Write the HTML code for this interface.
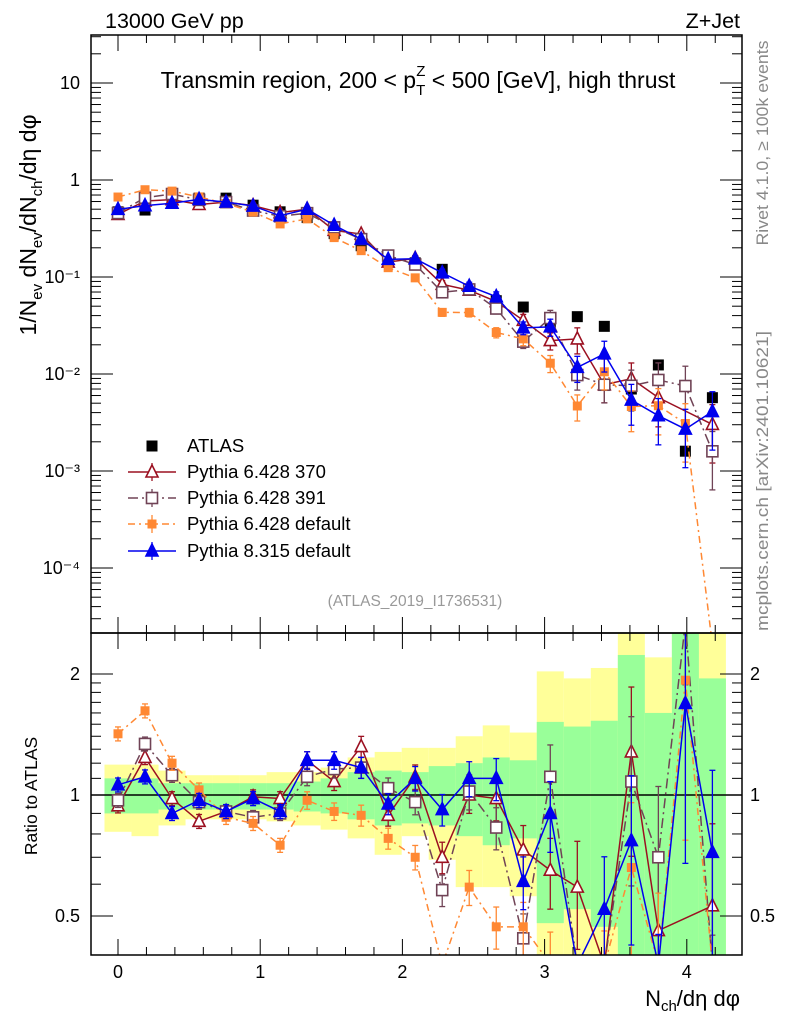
<!DOCTYPE html>
<html><head><meta charset="utf-8"><style>
html,body{margin:0;padding:0;background:#fff;overflow:hidden;width:786px;height:1024px}
svg{display:block;overflow:hidden;font-family:"Liberation Sans",sans-serif}
</style></head><body>
<svg id="c" width="786" height="1024" viewBox="0 0 786 1024" xmlns="http://www.w3.org/2000/svg">
<defs>
<clipPath id="clipMain"><rect x="91" y="35" width="651" height="598"/></clipPath>
<clipPath id="clipRatio"><rect x="91" y="633" width="651" height="322"/></clipPath>
</defs>
<g id="bands" clip-path="url(#clipRatio)"></g>
<g id="axes"></g>
<g id="mainMarks" clip-path="url(#clipMain)"></g>
<g id="ratioMarks" clip-path="url(#clipRatio)"></g>
<rect x="91" y="35" width="651" height="598" fill="none" stroke="#000" stroke-width="1.5"/>
<rect x="91" y="633" width="651" height="322" fill="none" stroke="#000" stroke-width="1.5"/>
<text x="105" y="28" font-size="21.5">13000 GeV pp</text>
<text x="740" y="28" font-size="21.5" text-anchor="end">Z+Jet</text>
<text x="418" y="88" font-size="23" text-anchor="middle">Transmin region, 200 &lt; p<tspan font-size="15" dy="7">T</tspan><tspan font-size="15" dx="-9" dy="-19">Z</tspan><tspan dy="12"> &lt; 500 [GeV], high thrust</tspan></text>
<text transform="translate(36,225) rotate(-90)" font-size="23" text-anchor="middle">1/N<tspan font-size="15" dy="6">ev</tspan><tspan dy="-6"> dN</tspan><tspan font-size="15" dy="6">ev</tspan><tspan dy="-6">/dN</tspan><tspan font-size="15" dy="6">ch</tspan><tspan dy="-6">/dη dφ</tspan></text>
<text transform="translate(37,796) rotate(-90)" font-size="17.5" text-anchor="middle">Ratio to ATLAS</text>
<text x="740" y="1006" font-size="22" text-anchor="end">N<tspan font-size="15" dy="5">ch</tspan><tspan dy="-5">/dη dφ</tspan></text>
<text transform="translate(768,143) rotate(-90)" font-size="16.5" fill="#888" text-anchor="middle" textLength="205" lengthAdjust="spacingAndGlyphs">Rivet 4.1.0, ≥ 100k events</text>
<text transform="translate(768,481) rotate(-90)" font-size="16.5" fill="#888" text-anchor="middle" textLength="300" lengthAdjust="spacingAndGlyphs">mcplots.cern.ch [arXiv:2401.10621]</text>
<text x="415" y="606" font-size="15.5" fill="#999" text-anchor="middle">(ATLAS_2019_I1736531)</text>
<g id="legend"></g>
</svg>
<script>
// ---- data ----
const xCenters = [0,0.19,0.38,0.57,0.76,0.95,1.14,1.33,1.52,1.71,1.9,2.09,2.28,2.47,2.66,2.85,3.04,3.23,3.42,3.61,3.8,3.99,4.18];
const atlasValues = [0.47,0.49,0.64,0.65,0.65,0.55,0.47,0.41,0.28,0.21,0.16,0.14,0.12,0.073,0.057,0.049,0.034,0.039,0.031,0.0070,0.0124,0.0016,0.0057];
const ratioP6_370 = [0.94,1.24,0.98,0.86,0.91,0.99,0.98,1.22,1.08,1.32,0.89,1.11,0.70,1.00,0.98,0.73,0.65,0.59,0.25,1.28,0.46,null,0.53];
const ratioP6_391 = [0.97,1.34,1.12,0.96,0.91,0.88,0.90,1.11,1.16,1.17,1.04,0.96,0.58,1.02,0.83,0.44,1.11,0.25,0.25,1.08,0.70,4.7,0.28];
const ratioP6_def = [1.42,1.62,1.20,1.03,0.88,0.85,0.75,0.97,0.91,0.89,0.78,0.70,0.36,0.59,0.47,0.47,0.38,0.12,0.34,0.66,0.38,1.93,0.001];
const ratioP8_def = [1.06,1.11,0.90,0.97,0.91,0.98,0.91,1.22,1.22,1.17,0.95,1.10,0.92,1.10,1.10,0.61,0.90,0.3,0.52,0.77,0.3,1.69,0.72];
const relErr = [0.04,0.04,0.04,0.04,0.04,0.04,0.04,0.05,0.05,0.06,0.06,0.07,0.09,0.10,0.12,0.15,0.2,0.3,0.35,0.45,0.5,0.6,0.6];
const greenUp = [1.10,1.10,1.07,1.07,1.07,1.07,1.07,1.08,1.10,1.14,1.15,1.14,1.18,1.20,1.24,1.22,1.52,1.48,1.53,2.23,1.60,3.0,1.95];
const greenLo = [0.90,0.90,0.92,0.92,0.92,0.92,0.92,0.91,0.90,0.87,0.84,0.85,0.84,0.79,0.75,0.78,0.48,0.52,0.47,0.3,0.3,0.3,0.3];
const yellowUp = [1.19,1.19,1.15,1.12,1.12,1.12,1.14,1.14,1.17,1.24,1.28,1.31,1.31,1.40,1.49,1.43,2.03,1.95,2.07,3.0,2.2,3.0,3.0];
const yellowLo = [0.81,0.79,0.84,0.87,0.87,0.87,0.86,0.84,0.82,0.78,0.71,0.79,0.69,0.59,0.59,0.56,0.3,0.3,0.3,0.3,0.3,0.3,0.3];
const mainYTicks = [10,1,0.1,0.01,0.001,0.0001];
const mainYLabels = ["10","1","10⁻¹","10⁻²","10⁻³","10⁻⁴"];
const xTickVals = [0,1,2,3,4];
const ratioTickVals = [2,1,0.5];

// ---- axes ----
const X = v => 118 + 142.2*v;
const YM = v => Math.max(25, Math.min(645, 180 - 97*Math.log10(v)));
const YR = v => Math.max(623, Math.min(965, 795 - 402*Math.log10(v)));
const NS = "http://www.w3.org/2000/svg";
function mk(tag, attrs, parent){const e=document.createElementNS(NS,tag);for(const k in attrs)e.setAttribute(k,attrs[k]);parent.appendChild(e);return e;}
const axes = document.getElementById('axes');
function line(x1,y1,x2,y2,p,w){return mk('line',{x1,y1,x2,y2,stroke:'#000','stroke-width':w||1},p);}
for(let i=-1;i<=22;i++){
  const v=i*0.2; const x=X(v); if(x<92||x>741) continue;
  const major = Math.abs(v-Math.round(v))<1e-6;
  const L = major?16:8;
  line(x,35,x,35+L,axes); line(x,633,x,633-L,axes); line(x,633,x,633+L,axes); line(x,955,x,955-L,axes);
}
xTickVals.forEach(v=>{const t=mk('text',{x:X(v),y:978,'font-size':18,'text-anchor':'middle'},axes);t.textContent=v;

});
for(let d=-5;d<=1;d++){for(let m=1;m<=9;m++){const v=m*Math.pow(10,d);const y=180-97*Math.log10(v);if(y<35||y>633)continue;const L=m===1?22:10;line(91,y,91+L,y,axes);line(742,y,742-L,y,axes);}}
mainYTicks.forEach((v,i)=>{const t=mk('text',{x:80,y:YM(v)+6,'font-size':18,'text-anchor':'end'},axes);t.textContent=mainYLabels[i];

});
[0.4,0.5,0.6,0.7,0.8,0.9,1,1.1,1.2,1.3,1.4,1.5,1.6,1.7,1.8,1.9,2].forEach(v=>{const y=YR(v);const L=(v===0.5||v===1||v===2)?22:10;line(91,y,91+L,y,axes);line(742,y,742-L,y,axes);});
ratioTickVals.forEach(v=>{const y=YR(v)+6;
 const a=mk('text',{x:80,y,'font-size':18,'text-anchor':'end'},axes);a.textContent=v;
 
 
 const b=mk('text',{x:750,y,'font-size':18},axes);b.textContent=v;
 
 });

// ---- bands ----
const bands=document.getElementById('bands');
const bw=0.19;
xCenters.forEach((c,i)=>{
  const x0=X(c-bw/2), x1=X(c+bw/2);
  const yb=mk('rect',{x:x0,y:YR(yellowUp[i]),width:x1-x0,height:YR(yellowLo[i])-YR(yellowUp[i]),fill:'#ffff99'},bands);
  
  
});
xCenters.forEach((c,i)=>{
  const x0=X(c-bw/2), x1=X(c+bw/2);
  const gb=mk('rect',{x:x0,y:YR(greenUp[i]),width:x1-x0,height:YR(greenLo[i])-YR(greenUp[i]),fill:'#99ff99'},bands);
  
  
});
line(91,YR(1),742,YR(1),axes,1.5);

// ---- series ----
const series=[
 {name:'pythia-6428-370',label:'Pythia 6.428 370',r:ratioP6_370,color:'#9b1021',dash:'',marker:'tri-open'},
 {name:'pythia-6428-391',label:'Pythia 6.428 391',r:ratioP6_391,color:'#704356',dash:'10,4,2,4',marker:'sq-open'},
 {name:'pythia-6428-default',label:'Pythia 6.428 default',r:ratioP6_def,color:'#ff8833',dash:'7,4,2,4',marker:'sq-fill'},
 {name:'pythia-8315-default',label:'Pythia 8.315 default',r:ratioP8_def,color:'#0000ee',dash:'',marker:'tri-fill'}
];
function marker(type,x,y,color,p,size){
  const s=size||6;
  if(type==='tri-open'||type==='tri-fill'){
    return mk('polygon',{points:`${x},${y-s-1} ${x-s},${y+s-1} ${x+s},${y+s-1}`,fill:type==='tri-fill'?color:'#fff',stroke:color,'stroke-width':1.6},p);
  }
  if(type==='sq-open') return mk('rect',{x:x-5.5,y:y-5.5,width:11,height:11,fill:'#fff',stroke:color,'stroke-width':1.6},p);
  if(type==='sq-fill') return mk('rect',{x:x-4.5,y:y-4.5,width:9,height:9,fill:color},p);
  return mk('rect',{x:x-5.5,y:y-5.5,width:11,height:11,fill:color},p);
}
function drawSeries(p,vals,Yf,s,errs,prefix){
  const g=mk('g',{},p);
  
  
  let d='';let pen=false;
  vals.forEach((v,i)=>{if(v==null||v<=0){return;}const x=X(xCenters[i]),y=Yf(v);d+=(pen?'L':'M')+x+','+y;pen=true;});
  mk('path',{d,fill:'none',stroke:s.color,'stroke-width':1.5,'stroke-dasharray':s.dash},g);
  vals.forEach((v,i)=>{if(v==null||v<=0)return;const x=X(xCenters[i]);
    const lo=Math.max(v*(1-errs[i]),1e-9),hi=v*(1+errs[i]);
    const ylo=Yf(lo), yhi=Yf(hi);
    mk('line',{x1:x,y1:ylo,x2:x,y2:yhi,stroke:s.color,'stroke-width':1.3},g);
    mk('line',{x1:x-3,y1:ylo,x2:x+3,y2:ylo,stroke:s.color,'stroke-width':1.3},g);
    mk('line',{x1:x-3,y1:yhi,x2:x+3,y2:yhi,stroke:s.color,'stroke-width':1.3},g);});
  vals.forEach((v,i)=>{if(v==null||v<=0)return;const m=marker(s.marker,X(xCenters[i]),Yf(v),s.color,g);
    
    });
}
const mainG=document.getElementById('mainMarks');
const ratioG=document.getElementById('ratioMarks');
atlasValues.forEach((v,i)=>{const m=marker('data',X(xCenters[i]),YM(v),'#000',mainG);
  
  });
series.forEach(s=>{
  const mainVals=s.r.map((r,i)=>r==null?null:r*atlasValues[i]);
  drawSeries(mainG,mainVals,YM,s,relErr,'main-');
  drawSeries(ratioG,s.r,YR,s,relErr,'ratio-');
});

// ---- legend ----
const leg=document.getElementById('legend');
const legY=[446,472,498,524,551];
const lm=marker('data',152,legY[0],'#000',leg);


const lt=mk('text',{x:187,y:legY[0]+6,'font-size':18.5},leg);lt.textContent='ATLAS';


series.forEach((s,k)=>{const y=legY[k+1];
  mk('line',{x1:128,y1:y,x2:176,y2:y,stroke:s.color,'stroke-width':1.5,'stroke-dasharray':s.dash},leg);
  mk('line',{x1:152,y1:y-9,x2:152,y2:y+9,stroke:s.color,'stroke-width':1.3},leg);
  const m=marker(s.marker,152,y,s.color,leg);
  
  
  const t=mk('text',{x:187,y:y+6,'font-size':18.5},leg);t.textContent=s.label;
  
  
});
</script>
</body></html>
